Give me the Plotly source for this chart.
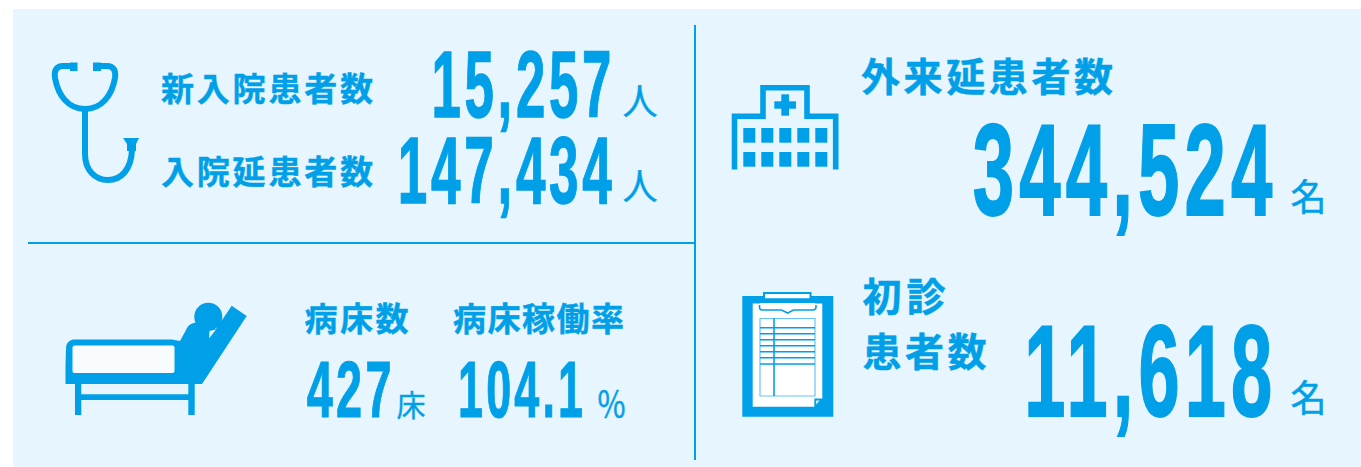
import json
import plotly.graph_objects as go

BLUE = "#00A0E9"
BG = "#E7F5FE"
JP = "Noto Sans CJK JP"
NUM = "Liberation Sans"

# ---- content ----
labels = ["新入院患者数", "入院延患者数", "外来延患者数", "初診", "患者数", "病床数", "病床稼働率"]
values = ["15,257", "147,434", "344,524", "11,618", "427", "104.1"]
units = ["人", "人", "名", "名", "床", "%"]

# ---- placement: left, right, vertical centre, font size ----
label_pos = [(161, 373, 87, 33), (161, 373, 170, 33), (861, 1113, 74, 39),
             (862, 945, 294, 39), (862, 986, 349, 39), (304, 408, 317, 33), (453, 624, 317, 33)]
value_pos = [(432, 612, 84, 95), (398, 612, 170, 95), (973, 1273, 170, 129),
             (1024, 1272, 371, 129), (306, 391, 389, 80), (458, 583, 389, 80)]
unit_pos = [(622, 657, 99, 36), (622, 657, 184, 36), (1290, 1326, 195, 37),
            (1290, 1326, 396, 37), (396, 425, 403, 30), (597, 625, 401, 38)]

annotations, lengths = [], []


def add_text(text, pos, family, bold, adjust, track=0.0, thick=0.0):
    x0, x1, yc, size = pos
    x1 += track * size * 0.55      # trailing tracking carries no ink
    annotations.append(dict(
        text=f"<b>{text}</b>" if bold else text, x=(x0 + x1) / 2, y=yc, xref="x", yref="y",
        xanchor="center", yanchor="middle", showarrow=False, align="center",
        font=dict(family=family, size=size, color=BLUE)))
    lengths.append([x1 - x0, adjust, track * size, thick * size])


for t, p in zip(labels, label_pos):
    add_text(t, p, JP, True, "spacing", thick=0.012)
for t, p in zip(values, value_pos):
    add_text(t, p, NUM, True, "spacingAndGlyphs", track=0.07, thick=0.014)
for t, p in zip(units, unit_pos):
    add_text(t, p, JP, False, "spacingAndGlyphs", thick=0.012)


# ---- icon helpers (page pixel space) ----
shapes = []


def rect(x0, y0, x1, y1, fill=BLUE):
    shapes.append(dict(type="rect", x0=x0, y0=y0, x1=x1, y1=y1, fillcolor=fill, line_width=0, layer="above"))


def path(d, fill=None, stroke=None, w=0):
    s = dict(type="path", path=d, layer="above", line=dict(color=stroke or "rgba(0,0,0,0)", width=w))
    s["fillcolor"] = fill or "rgba(0,0,0,0)"
    shapes.append(s)


# panel and dividers
rect(13, 9, 1361, 467, BG)
rect(694, 25, 696, 460)
rect(28, 242, 695, 244)

# stethoscope
path("M77,66 L63,66 C56,66 54,71 55,78 C58,95 68,109 85,109 C102,109 112,95 115,78 "
     "C116,71 114,66 107,66 L93,66", stroke=BLUE, w=6)
path("M85,107 L85,154 C85,170 95,180 108,180 C121,180 131,170 132,150", stroke=BLUE, w=6)
rect(70, 62.5, 77.5, 71)
rect(93, 62.5, 101, 71)
path("M123,138 L139,138 L136,144 L136,151 L127,151 L127,144 Z", fill=BLUE)

# bed
path("M65.5,384 L65.5,365 L66,349 C66,342 70,339.5 75,339.5 L172,339.5 L180,341 L186,330 "
     "C188,325 192,323 196,322.5 L208,328 L216,329 L231.7,305.7 L246.7,316 L202,384 Z", fill=BLUE)
shapes.append(dict(type="circle", x0=194.3, y0=302.7, x1=222.3, y1=330.7, fillcolor=BLUE, line_width=0, layer="above"))
path("M209,338.5 L209.5,331 L216,329.5 Z", fill=BG)
path("M74.5,345.5 L172.5,345.5 Q174.5,345.5 174.5,347.5 L174.5,371 Q174.5,373 172.5,373 "
     "L74.5,373 Q72.5,373 72.5,371 L72.5,347.5 Q72.5,345.5 74.5,345.5 Z", fill="#F8FCFF")
rect(75, 384, 81.3, 415)
rect(188.3, 384, 194.7, 415)
rect(81, 394.3, 189, 400)

# hospital
path("M734.5,169.5 L734.5,116.3 L763,116.3 L763,87.8 L807,87.8 L807,116.3 L835.7,116.3 L835.7,169.5",
     stroke=BLUE, w=5.6)
for wx in (743.3, 761.3, 779.3, 797.3, 815.3):
    rect(wx, 128, wx + 12, 142.7)
    rect(wx, 152, wx + 12, 166.7)
rect(774.3, 101.3, 796, 108.7)
rect(781.3, 94.3, 789, 115.7)

# clipboard
rect(742.3, 296, 833.3, 416.7)
path("M752.7,305 L822.3,305 L822.3,398.5 L814.3,406.7 L752.7,406.7 Z", fill="white")
rect(763, 292, 811.5, 300)
rect(765, 294, 809.5, 298.3, "white")
path("M759.5,303 L759.5,307 Q759.5,310 762,310 L781.5,310 L787.7,313 L793.5,310 L813,310 "
     "Q816,310 816,307 L816,303", fill="white", stroke=BLUE, w=1.6)
rect(752.7, 305, 822.3, 303.5, "white")
path("M760,318.5 L815,318.5 L815,396 L760,396 Z", stroke="#66C5F1", w=1.2)
rect(773.2, 318.3, 774.8, 396)
for ly in (327.7, 333.7, 339.7, 345.7, 351.7, 357.7, 364):
    rect(760, ly - 0.8, 815, ly + 0.8)
path("M814.3,398.5 L822.3,398.5 L822.3,406.7 L814.3,406.7 Z", fill=BLUE)
path("M816,400.5 L820,400.5 L816,404.5 Z", fill="#CFEAFA")

fig = go.Figure()
fig.update_layout(
    width=1361, height=467, margin=dict(l=0, r=0, t=0, b=0),
    paper_bgcolor="white", plot_bgcolor="white", showlegend=False,
    xaxis=dict(range=[0, 1361], visible=False, fixedrange=True),
    yaxis=dict(range=[467, 0], visible=False, fixedrange=True),
    shapes=shapes, annotations=annotations,
)

post = """
document.documentElement.style.overflow = 'hidden';
document.body.style.margin = '0';
var L = %s;
document.querySelectorAll('.annotation').forEach(function (g) {
  var i = +g.getAttribute('data-index');
  var t = g.querySelector('text.annotation-text');
  if (!t || !L[i]) return;
  if (L[i][2]) t.style.letterSpacing = L[i][2] + 'px';
  if (L[i][3]) { t.style.stroke = '%s'; t.style.strokeWidth = L[i][3] + 'px'; }
  t.setAttribute('textLength', L[i][0]);
  t.setAttribute('lengthAdjust', L[i][1]);
  var r = g.querySelector('rect.bg');
  if (r) {
    var old = +r.getAttribute('width');
    var x = +r.getAttribute('x') || 0;
    r.setAttribute('x', x + (old - L[i][0]) / 2);
    r.setAttribute('width', L[i][0]);
  }
});
""" % (json.dumps(lengths), BLUE)

fig.write_html("out.html", post_script=post, config={"displayModeBar": False, "responsive": False})
